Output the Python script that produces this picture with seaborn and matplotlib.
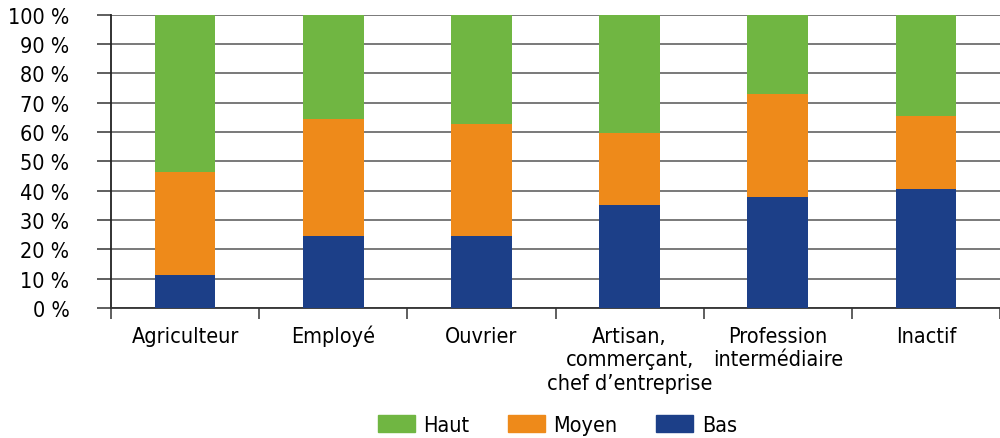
import matplotlib
matplotlib.use("Agg")
import matplotlib.pyplot as plt
import matplotlib.patches as mpatches
import matplotlib.transforms as mtransforms
import seaborn as sns
import pandas as pd
import numpy as np

categories = ["Agriculteur", "Employé", "Ouvrier",
              "Artisan,\ncommerçant,\nchef d\u2019entreprise",
              "Profession\nintermédiaire", "Inactif"]
bas = [11.3, 24.6, 24.6, 35.2, 37.9, 40.6]
moyen = [35.1, 40.0, 38.2, 24.6, 35.1, 24.9]
haut = [100 - b - m for b, m in zip(bas, moyen)]

colors = {"Haut": "#70B642", "Moyen": "#EE8A1A", "Bas": "#1C3F88"}

sns.set_style("white")
plt.rcParams["font.family"] = ["DejaVu Sans"]
plt.rcParams["font.stretch"] = "condensed"
plt.rcParams["text.color"] = "black"
plt.rcParams["xtick.color"] = "black"
plt.rcParams["ytick.color"] = "black"

df = pd.DataFrame({"cat": categories, "Bas": bas, "Moyen": moyen, "Haut": haut})
df["top_moyen"] = df["Bas"] + df["Moyen"]
df["top_haut"] = df["top_moyen"] + df["Haut"]

fig = plt.figure(figsize=(10, 4.39), dpi=100)
ax = fig.add_axes([0.111, 0.296, 0.889, 0.668])

for ycol, key in [("top_haut", "Haut"), ("top_moyen", "Moyen"), ("Bas", "Bas")]:
    sns.barplot(data=df, x="cat", y=ycol, color=colors[key], width=0.41,
                saturation=1, linewidth=0, ax=ax, zorder=3)

ax.set_xlim(-0.5, 5.5)
ax.set_ylim(0, 100)
ax.set_yticks(np.arange(0, 101, 10))
ax.set_yticklabels([f"{v} %" for v in range(0, 101, 10)], fontsize=15.5)
ax.yaxis.grid(True, color="#555555", linewidth=1.1, zorder=0)
ax.set_axisbelow(True)
ax.tick_params(axis="y", length=10, width=1.1, color="#333333", pad=20, left=True)

# category labels: one text per line, baselines at fixed pixel rows
ax.set_xticks(range(len(categories)))
ax.set_xticklabels([])
ax.tick_params(axis="x", length=0)
ax.set_xticks(np.arange(-0.5, 6, 1), minor=True)
ax.tick_params(axis="x", which="minor", length=8, width=1.1, color="#333333", bottom=True)
trans = mtransforms.blended_transform_factory(ax.transData, fig.transFigure)
for i, cat in enumerate(categories):
    for j, line in enumerate(cat.split("\n")):
        ax.text(i, 1 - (343 + 23.5 * j) / 439, line, transform=trans, ha="center",
                va="baseline", fontsize=15.5, clip_on=False)

for s in ["top", "right"]:
    ax.spines[s].set_visible(False)
ax.spines["left"].set_color("#222222")
ax.spines["left"].set_linewidth(1.3)
ax.spines["bottom"].set_color("#333333")
ax.spines["bottom"].set_linewidth(1.3)
ax.set_xlabel("")
ax.set_ylabel("")

handles = [mpatches.Patch(color=colors[k], label=k) for k in ["Haut", "Moyen", "Bas"]]
fig.legend(handles=handles, loc="center", bbox_to_anchor=(0.5575, 0.030), ncol=3,
           frameon=False, fontsize=15.5, handlelength=1.7, handleheight=0.8,
           columnspacing=1.8, handletextpad=0.4)

fig.savefig("out.png", dpi=100)
